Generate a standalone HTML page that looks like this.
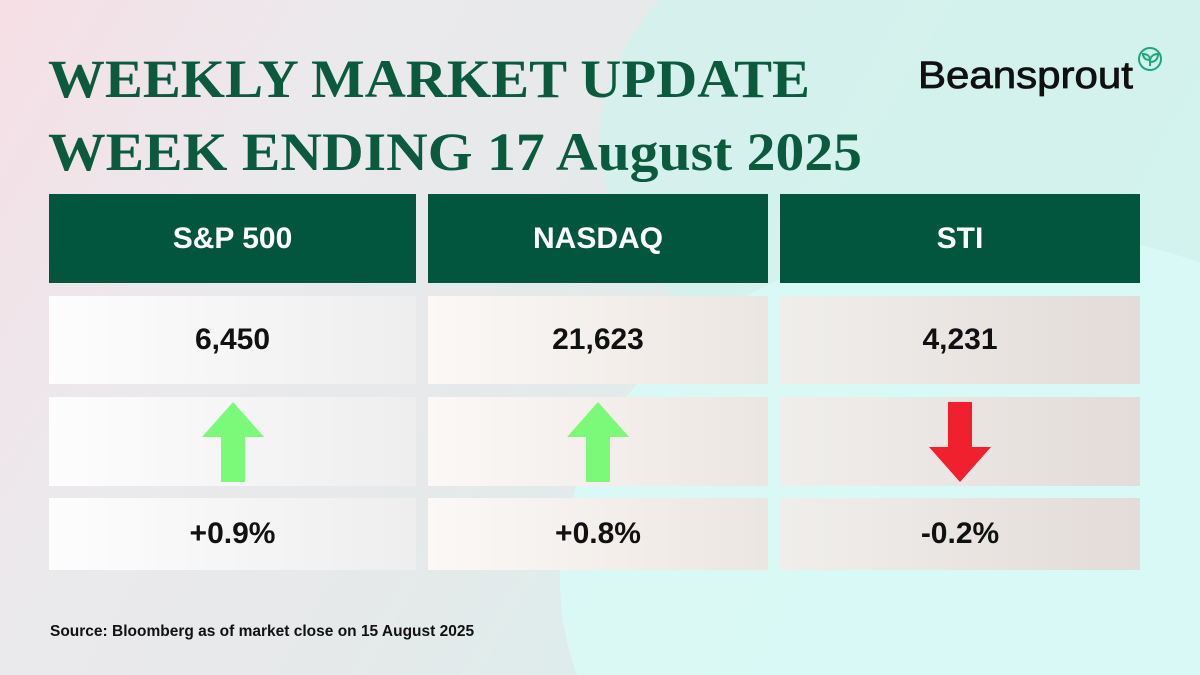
<!DOCTYPE html>
<html><head><meta charset="utf-8"><style>
html,body{margin:0;padding:0;width:1200px;height:675px;overflow:hidden}
body{position:relative;font-family:"Liberation Sans",sans-serif;
background:linear-gradient(120deg,#f6dfe6 0%,#ebe9ec 22%,#e6e9ea 45%,#d8f0ec 70%,#d4f6f1 100%);}
#wrap{position:absolute;left:0;top:0;width:1200px;height:675px;overflow:hidden}
.blob{position:absolute;border-radius:50%}
.cell{position:absolute;display:flex;align-items:center;justify-content:center;font-size:30px;font-weight:bold;color:#111;
background:linear-gradient(90deg,#fdfdfd,#eeeeee)}
.c2{background:linear-gradient(90deg,#fbf8f6,#ece6e2)}
.c3{background:linear-gradient(90deg,#f0eeec,#e3dcd8)}
.hdr{background:#02563d;color:#fff;font-size:30px}
</style></head><body>
<div id="wrap">
<div class="blob" style="left:600px;top:-120px;width:760px;height:520px;background:#d2f3ee;opacity:.8"></div>
<div class="blob" style="left:560px;top:230px;width:900px;height:700px;background:#d9faf6;opacity:.9"></div>
</div>
<svg style="position:absolute;left:0;top:0" width="1200" height="200">
<text x="48" y="97" textLength="762" lengthAdjust="spacingAndGlyphs" font-family="Liberation Serif" font-weight="bold" font-size="54" fill="#0b5a3e">WEEKLY MARKET UPDATE</text>
<text x="48" y="170" textLength="814" lengthAdjust="spacingAndGlyphs" font-family="Liberation Serif" font-weight="bold" font-size="54" fill="#0b5a3e">WEEK ENDING 17 August 2025</text>
<text x="918" y="88" textLength="215" lengthAdjust="spacingAndGlyphs" font-family="Liberation Sans" font-size="38" fill="#111" stroke="#111" stroke-width="0.8">Beansprout</text>
<g stroke="#1aa877" stroke-width="2" fill="none"><circle cx="1150" cy="59" r="11"/><path d="M1150 66v-6M1150 60c-5 0-7-3-7-6 4 0 7 2 7 6zM1150 62c0-5 3-8 8-8 0 5-3 8-8 8z"/></g>
</svg>
<div class="cell hdr" style="left:49px;top:194px;width:367px;height:89px">S&amp;P 500</div>
<div class="cell hdr" style="left:428px;top:194px;width:340px;height:89px">NASDAQ</div>
<div class="cell hdr" style="left:780px;top:194px;width:360px;height:89px">STI</div>
<div class="cell" style="left:49px;top:296px;width:367px;height:88px">6,450</div>
<div class="cell c2" style="left:428px;top:296px;width:340px;height:88px">21,623</div>
<div class="cell c3" style="left:780px;top:296px;width:360px;height:88px">4,231</div>
<div class="cell" style="left:49px;top:397px;width:367px;height:89px"><svg width="62" height="80"><path d="M31 0L62 35H43V80H19V35H0Z" fill="#7bfa7a"/></svg></div>
<div class="cell c2" style="left:428px;top:397px;width:340px;height:89px"><svg width="62" height="80"><path d="M31 0L62 35H43V80H19V35H0Z" fill="#7bfa7a"/></svg></div>
<div class="cell c3" style="left:780px;top:397px;width:360px;height:89px"><svg width="62" height="80"><path d="M31 80L62 45H43V0H19V45H0Z" fill="#f0202e"/></svg></div>
<div class="cell" style="left:49px;top:498px;width:367px;height:72px">+0.9%</div>
<div class="cell c2" style="left:428px;top:498px;width:340px;height:72px">+0.8%</div>
<div class="cell c3" style="left:780px;top:498px;width:360px;height:72px">-0.2%</div>
<div style="position:absolute;left:50px;top:623px;font-size:15.5px;font-weight:bold;color:#111">Source: Bloomberg as of market close on 15 August 2025</div>
</body></html>
